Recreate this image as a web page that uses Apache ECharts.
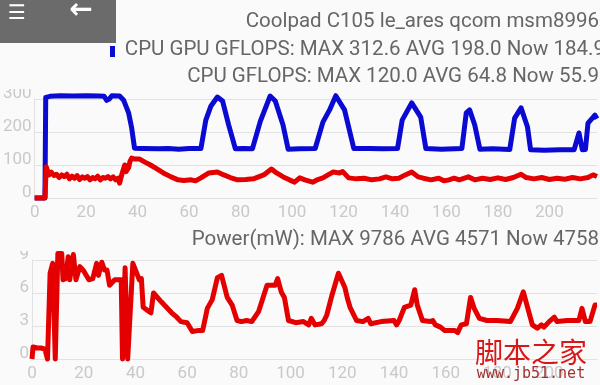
<!DOCTYPE html>
<html>
<head>
<meta charset="utf-8">
<script src="https://cdn.jsdelivr.net/npm/echarts@6/dist/echarts.min.js"></script>
<style>
html,body{margin:0;padding:0;background:#fafafa;}
#chart{width:600px;height:385px;}
</style>
</head>
<body>
<div id="chart"></div>
<script>
// ---- Data ----
var deviceTitle = 'Coolpad C105 le_ares qcom msm8996';
var cpuGpuTitle = 'CPU GPU GFLOPS: MAX 312.6 AVG 198.0 Now 184.9';
var cpuTitle = 'CPU GFLOPS: MAX 120.0 AVG 64.8 Now 55.9';
var powerTitle = 'Power(mW): MAX 9786 AVG 4571 Now 4758';

// CPU+GPU GFLOPS (blue) [time, value]
var cpuGpuData = [[0,0],[4,0],[4.3,305],[6,308],[10,310],[15,309],[20,310],[25,309],[27,308],[28,296],[29,300],[30,310],[33,309],[34.6,296],[36.5,258],[37.7,212],[38.8,151],[42,150],[48,149],[52,150],[56,148],[60,150],[64.6,150],[66.5,236],[68.5,279],[71,306],[73,294],[75.4,221],[78,149],[81,150],[84.6,149],[87.7,233],[91.5,309],[93.5,294],[96.5,221],[98.5,148],[103,149],[109,150],[112,230],[114.6,267],[117,310],[120.4,267],[124,150],[130,150],[135,149],[141,150],[142.8,236],[146.5,288],[150,245],[152,150],[158,148],[166,150],[167.7,258],[169,267],[171,221],[173,148],[178,149],[184.6,147],[186.5,242],[189,273],[191.5,215],[192.7,146],[198,145],[204,146],[209.6,146],[211.5,197],[212.8,146],[214,147],[215,227],[217.7,251],[218.5,240]];

// CPU GFLOPS (red) [time, value]
var cpuData = [[0,0],[4,0],[4.5,95],[5.5,70],[6.5,78],[7.5,68],[8.5,72],[9.5,62],[10.5,70],[11.5,65],[12.5,72],[13.5,58],[14.5,66],[15.5,60],[16.5,68],[17.5,56],[18.5,64],[19.5,60],[20.5,65],[21.5,55],[22.5,62],[23.5,58],[24.5,66],[25.5,55],[26.5,62],[27.5,60],[28.5,65],[29.5,58],[30.5,64],[31.5,55],[32.5,60],[33,45],[34,75],[35,100],[35.5,80],[36.5,92],[37,110],[37.7,121],[39,118],[40.8,118],[43,108],[45,100],[47.5,88],[50,76],[53,64],[55.7,55],[58,53],[60.8,55],[62.5,52],[64.6,61],[66,68],[67.7,76],[71,79],[73.5,70],[76,62],[78.8,55],[82,56],[85,58],[87,64],[89,70],[92,88],[94,76],[96.6,64],[99,55],[101,48],[103,61],[105,55],[108,48],[110,56],[112,61],[114,70],[116,79],[118.5,76],[119.7,80],[122,61],[125,58],[128,60],[131,55],[134,58],[136.5,64],[139,58],[141.5,60],[144,70],[146.5,79],[149,64],[151,60],[154,55],[157,60],[159,52],[161,55],[163,60],[165,55],[168.5,64],[171,55],[174,60],[177,56],[180,61],[183,56],[186,62],[189,72],[191,62],[194,58],[197,62],[200,56],[203,60],[206,57],[209,62],[212,58],[215,62],[217,70],[218.5,65]];

// Power in mW [time, value]
var powerData = [[0,0],[0.4,1100],[2,1000],[3.5,1000],[5,900],[6,0],[7,7800],[8,8700],[8.6,8700],[9,0],[10,9600],[11.5,9600],[12,7200],[13,7300],[14,9300],[14.6,7200],[16,9500],[17,7200],[18.5,8400],[20,8000],[22,7200],[23.5,7300],[25,8700],[25.7,7600],[27,8800],[28,8100],[29,8100],[30,6700],[32,7200],[34.5,7200],[35,0],[36,8300],[37,0],[39,8700],[40,8100],[41.5,7200],[42.3,7300],[43,4700],[44.8,4400],[46,4200],[47,6000],[50,5200],[54,4200],[56,3800],[57.6,3400],[60,3300],[62,2500],[64.6,2600],[66,2600],[67.8,4600],[69.7,5400],[71.7,7400],[73.3,7600],[75.5,5600],[77.4,4900],[79.3,3500],[81,3400],[83,3500],[85,3400],[87.6,4300],[90.9,6700],[94,6700],[95,7300],[96.4,6100],[97.6,5600],[99.2,3500],[102,3300],[105,3400],[107,3100],[108,3700],[109.5,3100],[112,3200],[113,3500],[114,4000],[116,5800],[118.5,7800],[121,6500],[122,5500],[123,4700],[125.5,3500],[128,3400],[130,3700],[131,3200],[135,3400],[140,3500],[141,3100],[142,3500],[144,4700],[146.5,4900],[148,6300],[149,4900],[151,3500],[154,3400],[155,3500],[156,3100],[158,2900],[159.5,2600],[163.5,2600],[164.6,2400],[166,3100],[168,3200],[169.6,5600],[171,4600],[173,3700],[176,3500],[180,3500],[185,3400],[187.7,4600],[190,6100],[193.5,3100],[195.4,2800],[197,3100],[198,2900],[200,3400],[202,3800],[203,3400],[207,3500],[211.5,3500],[212.7,4600],[214,3400],[215.8,3400],[217.7,4900],[218.5,4900]];

var xRange = [0, 218.5];
var xStep = 20;
var gflopsRange = [0, 300, 100];
var powerRange = [0, 9000, 3000];

// ---- Chart ----
var chart = echarts.init(document.getElementById('chart'), null, {renderer: 'canvas'});
var FONT = 'Roboto';
var labelColor = '#c9c9c9';
var gridColor = '#e2e2e2';
var TITLE_FONT = '20.5px Roboto';

function xAxisCfg(gridIndex) {
  return {
    type: 'value', gridIndex: gridIndex, min: xRange[0], max: xRange[1], interval: xStep,
    axisLine: {show: true, onZero: false, lineStyle: {color: gridColor, width: 1}},
    axisTick: {show: false},
    splitLine: {show: false},
    axisLabel: {
      color: labelColor, fontFamily: FONT, fontSize: 17, margin: 6,
      formatter: function (v) { return (v % xStep === 0) ? String(v) : ''; }
    }
  };
}
function yAxisCfg(gridIndex, r, fmt) {
  return {
    type: 'value', gridIndex: gridIndex, min: r[0], max: r[1], interval: r[2],
    axisLine: {show: true, lineStyle: {color: gridColor, width: 1}},
    axisTick: {show: false},
    splitLine: {show: true, lineStyle: {color: gridColor, width: 1}},
    axisLabel: {
      color: labelColor, fontFamily: FONT, fontSize: 17, margin: 3,
      verticalAlign: 'bottom', lineHeight: 10, formatter: fmt
    }
  };
}

var option = {
  backgroundColor: '#fafafa',
  animation: false,
  grid: [
    {left: 32, right: 0, top: 99, height: 99},
    {left: 32, right: 0, top: 260, height: 99}
  ],
  xAxis: [xAxisCfg(0), xAxisCfg(1)],
  yAxis: [
    yAxisCfg(0, gflopsRange, function (v) { return String(v); }),
    yAxisCfg(1, powerRange, function (v) { return String(v / 1000); })
  ],
  series: [
    {type: 'line', xAxisIndex: 0, yAxisIndex: 0, data: cpuGpuData, showSymbol: false, clip: false,
     lineStyle: {color: '#0a0ad2', width: 5, join: 'round'}, z: 2},
    {type: 'line', xAxisIndex: 0, yAxisIndex: 0, data: cpuData, showSymbol: false, clip: false,
     lineStyle: {color: '#e40000', width: 5, join: 'round'}, z: 3},
    {type: 'line', xAxisIndex: 1, yAxisIndex: 1, data: powerData, showSymbol: false, clip: false,
     lineStyle: {color: '#e40000', width: 5, join: 'round'}, z: 3}
  ],
  graphic: [
    {type: 'rect', left: 0, top: 232, shape: {width: 31, height: 19}, style: {fill: '#fafafa'}, z: 50},
    {type: 'rect', left: 0, top: 78, shape: {width: 31, height: 11}, style: {fill: '#fafafa'}, z: 50},
    {type: 'text', x: 599, y: 22, style: {text: deviceTitle, textAlign: 'right', textVerticalAlign: 'middle', fill: '#666', font: TITLE_FONT}, z: 60},
    {type: 'text', x: 605, y: 50, style: {text: cpuGpuTitle, textAlign: 'right', textVerticalAlign: 'middle', fill: '#666', font: TITLE_FONT}, z: 60},
    {type: 'text', x: 599, y: 77, style: {text: cpuTitle, textAlign: 'right', textVerticalAlign: 'middle', fill: '#666', font: TITLE_FONT}, z: 60},
    {type: 'text', x: 599, y: 240, style: {text: powerTitle, textAlign: 'right', textVerticalAlign: 'middle', fill: '#666', font: TITLE_FONT}, z: 60},
    {type: 'rect', left: 110, top: 46, shape: {width: 5, height: 11}, style: {fill: '#0a0ad2'}, z: 61},
    {type: 'rect', left: 0, top: 0, shape: {width: 116, height: 43}, style: {fill: '#6b6b6b'}, z: 70},
    {type: 'text', x: 17, y: 14, style: {text: '☰', textAlign: 'center', textVerticalAlign: 'middle', fill: '#fff', font: '20px DejaVu Sans'}, z: 71},
    {type: 'text', x: 81, y: 11, style: {text: '←', textAlign: 'center', textVerticalAlign: 'middle', fill: '#fff', font: 'bold 28px DejaVu Sans'}, z: 71},
    {type: 'text', x: 531, y: 352, style: {text: '脚本之家', textAlign: 'center', textVerticalAlign: 'middle', fill: '#d81818', font: '28px "Noto Sans CJK SC"'}, z: 72},
    {type: 'text', x: 531, y: 374, style: {text: 'www.jb51.net', textAlign: 'center', textVerticalAlign: 'middle', fill: '#a03030', font: '15px "DejaVu Sans Mono"'}, z: 72}
  ]
};
chart.setOption(option);
</script>
</body>
</html>
